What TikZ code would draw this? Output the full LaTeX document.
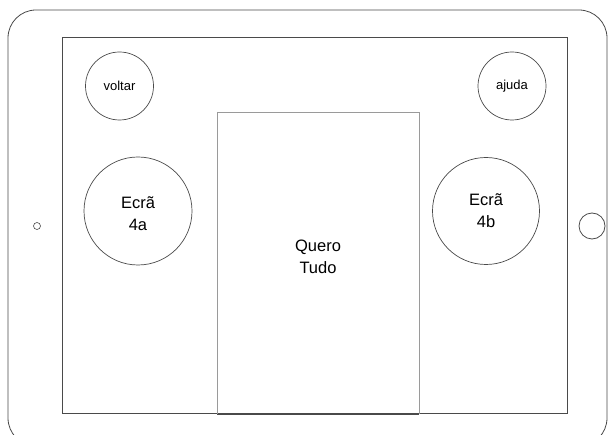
\documentclass[tikz,border=0pt]{standalone}
\usepackage{fontspec}
\setmainfont{Liberation Sans}
\definecolor{edge}{HTML}{4A4A4A}
\definecolor{lightedge}{HTML}{9A9A9A}
\begin{document}
\begin{tikzpicture}[x=1pt,y=-1pt,
  frame/.style={draw=edge,line width=0.8pt},
  btn/.style={circle,draw=edge,line width=0.7pt,inner sep=0pt,align=center,text=black},
  smallbtn/.style={btn,font=\fontsize{13}{15}\selectfont},
  bigbtn/.style={btn,font=\fontsize{16.5}{22}\selectfont}]
\useasboundingbox (0,0) rectangle (615,435);
\draw[frame,rounded corners=28pt] (8,10) rectangle (607,446);
\draw[frame] (62,37) rectangle (567,413);
\draw[draw=lightedge,line width=0.8pt] (217,112) -- (217,414);
\draw[draw=lightedge,line width=0.8pt] (217,112) -- (419,112) -- (419,414);
\draw[draw=edge,line width=0.9pt] (217,414) -- (419,414);
\node[font=\fontsize{16.5}{22}\selectfont,align=center] (quero) at (318,257) {Quero\\Tudo};
\node[smallbtn,minimum size=68pt] (voltar) at (119.5,86) {voltar};
\node[smallbtn,minimum size=68pt] (ajuda) at (512,86) {ajuda};
\node[bigbtn,minimum size=108pt] (ecra4a) at (138,211) {};
\node[font=\fontsize{16.5}{22}\selectfont,align=center] (t4a) at (138,214) {Ecrã\\4a};
\node[bigbtn,minimum size=107pt] (ecra4b) at (486,211) {};
\node[font=\fontsize{16.5}{22}\selectfont,align=center] (t4b) at (486,211) {Ecrã\\4b};
\node[circle,draw=edge,line width=0.6pt,minimum size=7pt,inner sep=0pt] (cam) at (37,226) {};
\node[circle,draw=edge,line width=0.8pt,minimum size=26pt,inner sep=0pt] (home) at (592,226) {};
\end{tikzpicture}
\end{document}
